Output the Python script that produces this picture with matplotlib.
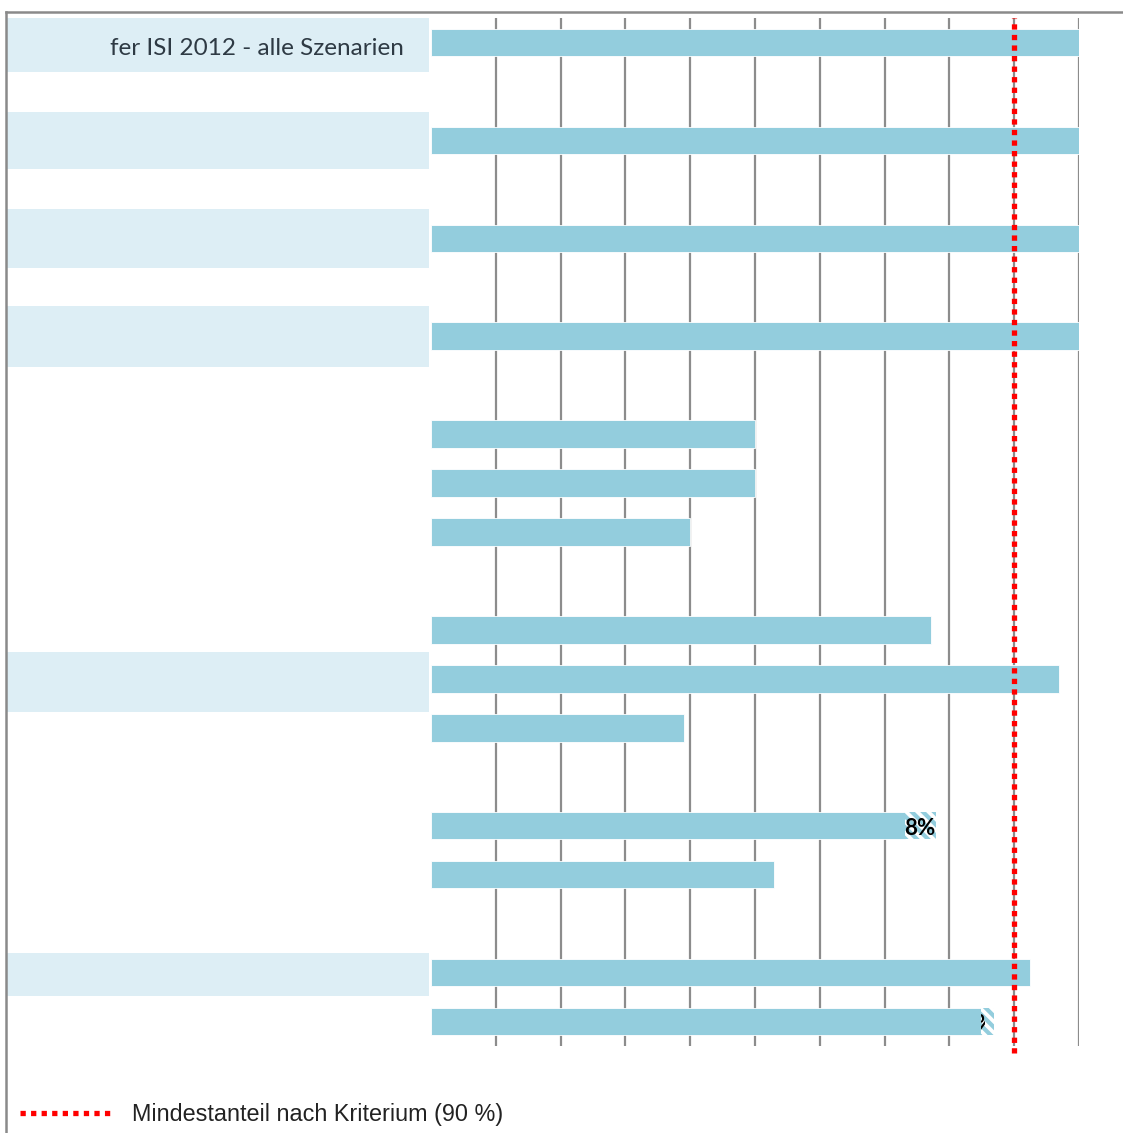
import matplotlib
matplotlib.use("Agg")
import matplotlib.pyplot as plt
from matplotlib.lines import Line2D
from matplotlib.patches import Rectangle

# ---------------- data ----------------
bar_slots = [0, 2, 4, 6, 8, 9, 10, 12, 13, 14, 16, 17, 19, 20]
bar_values = [100, 100, 100, 100, 50, 50, 40, 77.2, 96.9, 39.1, 73.1, 53.0, 92.5, 84.9]
hatch_slots = [16, 20]
hatch_base = [73.1, 84.9]
hatch_extra = [4.8, 2.0]
hatch_labels = ["8%", "6%"]
box_slots = [0, 2, 4, 6, 13.06, 19.04]
box_heights = [1.2, 1.17, 1.2, 1.24, 1.23, 0.88]
box_labels = ["fer ISI 2012 - alle Szenarien", "", "", "", "", ""]
criterion = 90
legend_label = "Mindestanteil nach Kriterium (90 %)"
grid_ticks = [10, 20, 30, 40, 50, 60, 70, 80, 90, 100]

BAR = "#93CDDD"
BOX = "#DDEEF5"
GRID = "#8C8C8C"

W, H = 1123, 1133
plt.rcParams["hatch.linewidth"] = 3.0
fig = plt.figure(figsize=(W / 100, H / 100), dpi=100)

top_px, bot_px = 18, 1046
ax = fig.add_axes([431 / W, 1 - bot_px / H, 648 / W, (bot_px - top_px) / H])
ax.set_xlim(0, 100)
ax.set_ylim(20.5, -0.5)
ax.set_xticks(grid_ticks)
ax.set_yticks([])
ax.tick_params(length=0, labelbottom=False)
for s in ax.spines.values():
    s.set_visible(False)
ax.grid(axis="x", color=GRID, linewidth=1.6)
ax.set_axisbelow(True)
ax.patch.set_alpha(0)

ax.barh(bar_slots, bar_values, height=0.56, color=BAR, edgecolor="white", linewidth=0.6, zorder=2)
ax.barh(hatch_slots, hatch_extra, left=hatch_base, height=0.56, facecolor="white",
        edgecolor=BAR, hatch="\\\\\\", linewidth=0, zorder=2)

# labels for hatched parts
t1 = ax.text(hatch_base[0] + hatch_extra[0], hatch_slots[0] + 0.06, hatch_labels[0],
             ha="right", va="center", fontsize=16, fontweight="bold",
             family="Lato", color="black", zorder=4)
t2 = ax.text(hatch_base[1] + hatch_extra[1], hatch_slots[1] + 0.06, hatch_labels[1],
             ha="right", va="center", fontsize=16, fontweight="bold",
             family="Lato", color="black", zorder=4)
clip = Rectangle((84.9, 19.5), 0.55, 1.0, transform=ax.transData)
t2.set_clip_on(True)
t2.set_clip_path(clip)

ax.axvline(criterion, color="#FF0000", linewidth=3.8, linestyle=(0, (1, 1)),
           dash_capstyle="butt", zorder=3, ymin=-0.007, ymax=1.0, clip_on=False)

# left label panel
axl = fig.add_axes([0, 1 - bot_px / H, 431 / W, (bot_px - top_px) / H], sharey=ax)
axl.set_xlim(0, 431)
axl.axis("off")
axl.barh(box_slots, [422] * len(box_slots), left=7, height=box_heights, color=BOX, zorder=1)
for y, lab in zip(box_slots, box_labels):
    if lab:
        axl.text(404, y + 0.12, lab, ha="right", va="center", fontsize=17.5,
                 family="Lato", color="#2E3A44")

# frame lines
fig.add_artist(Line2D([6 / W, 1], [1 - 12 / H, 1 - 12 / H], color="#8A8A8A", linewidth=1.8))
fig.add_artist(Line2D([6 / W, 6 / W], [1 - 12 / H, 0], color="#8A8A8A", linewidth=1.8))

# legend
ly = 1 - 1113 / H
fig.add_artist(Line2D([20 / W, 110 / W], [ly, ly], color="#FF0000", linewidth=3.8,
                      linestyle=(0, (1, 1)), dash_capstyle="butt"))
fig.text(132 / W, 1 - 1114 / H, legend_label, ha="left", va="center", fontsize=16.8,
         family="Liberation Sans", color="#222222")

fig.savefig("out.png", dpi=100)
